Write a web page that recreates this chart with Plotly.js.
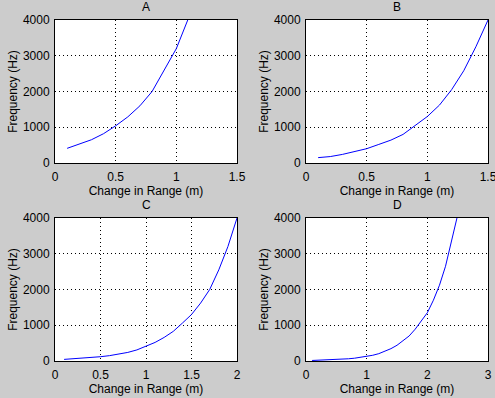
<!DOCTYPE html>
<html>
<head>
<meta charset="utf-8">
<script src="https://cdn.plot.ly/plotly-3.0.1.min.js"></script>
<style>
html,body{margin:0;padding:0;background:#cccccc;}
#chart{width:495px;height:398px;}
</style>
</head>
<body>
<div id="chart"></div>
<script>
// Panel A
const xA = [0.1, 0.2, 0.3, 0.4, 0.5, 0.6, 0.7, 0.8, 0.9, 1.0, 1.1];
const yA = [410, 530, 650, 820, 1040, 1290, 1600, 2000, 2600, 3200, 4050];
// Panel B
const xB = [0.1, 0.2, 0.3, 0.4, 0.5, 0.6, 0.7, 0.8, 0.9, 1.0, 1.1, 1.2, 1.3, 1.4, 1.5];
const yB = [150, 180, 240, 320, 400, 520, 640, 800, 1050, 1300, 1620, 2050, 2580, 3250, 4000];
// Panel C
const xC = [0.1, 0.2, 0.3, 0.4, 0.5, 0.6, 0.7, 0.8, 0.9, 1.0, 1.1, 1.2, 1.3, 1.4, 1.5, 1.6, 1.7, 1.8, 1.9, 2.0];
const yC = [45, 60, 80, 95, 120, 150, 190, 240, 310, 410, 520, 660, 830, 1060, 1300, 1620, 2000, 2550, 3200, 4000];
// Panel D
const xD = [0.1, 0.2, 0.3, 0.4, 0.5, 0.6, 0.7, 0.8, 0.9, 1.0, 1.1, 1.2, 1.3, 1.4, 1.5, 1.6, 1.7, 1.8, 1.9, 2.0, 2.1, 2.2, 2.3, 2.4, 2.5, 2.6];
const yD = [15, 20, 25, 32, 40, 50, 62, 78, 100, 128, 160, 205, 270, 345, 440, 560, 700, 890, 1110, 1350, 1700, 2120, 2650, 3330, 3950, 4800];

const titles = ['A', 'B', 'C', 'D'];
const xRanges = [[0, 1.5], [0, 1.5], [0, 2], [0, 3]];
const xTicks = [[0, 0.5, 1, 1.5], [0, 0.5, 1, 1.5], [0, 0.5, 1, 1.5, 2], [0, 1, 2, 3]];
const yTicks = [0, 1000, 2000, 3000, 4000];
const xLabel = 'Change in Range (m)';
const yLabel = 'Frequency (Hz)';

const W = 495, H = 398;
const xDom = [[55 / W, 237 / W], [306 / W, 488 / W], [55 / W, 237 / W], [306 / W, 488 / W]];
const yDom = [[1 - 163 / H, 1 - 20 / H], [1 - 163 / H, 1 - 20 / H], [1 - 361 / H, 1 - 218 / H], [1 - 361 / H, 1 - 218 / H]];

const xs = [xA, xB, xC, xD];
const ys = [yA, yB, yC, yD];

const font = {family: 'Liberation Sans, Arial, Helvetica, sans-serif', size: 12, color: '#000000'};

const data = [];
const layout = {
  width: W, height: H,
  margin: {l: 0, r: 0, t: 0, b: 0},
  paper_bgcolor: '#cccccc',
  plot_bgcolor: '#ffffff',
  showlegend: false,
  font: font,
  annotations: []
};

for (let i = 0; i < 4; i++) {
  const sfx = i === 0 ? '' : String(i + 1);
  data.push({
    x: xs[i], y: ys[i], type: 'scatter', mode: 'lines',
    line: {color: '#0000ff', width: 1},
    xaxis: 'x' + sfx, yaxis: 'y' + sfx, hoverinfo: 'skip'
  });
  const common = {
    showline: true, linecolor: '#000000', linewidth: 1, mirror: true,
    showgrid: true, gridcolor: '#000000', gridwidth: 1, griddash: '1px,3px',
    zeroline: false, ticks: 'outside', tickcolor: 'rgba(0,0,0,0)',
    tickfont: font, fixedrange: true, ticklabeloverflow: 'allow'
  };
  layout['xaxis' + sfx] = Object.assign({}, common, {
    domain: xDom[i], anchor: 'y' + sfx, range: xRanges[i],
    tickmode: 'array', tickvals: xTicks[i], ticktext: xTicks[i].map(String),
    ticklen: 3, tickpad: 0,
    title: {text: xLabel, font: font, standoff: 2}
  });
  layout['yaxis' + sfx] = Object.assign({}, common, {
    domain: yDom[i], anchor: 'x' + sfx, range: [0, 4000],
    tickmode: 'array', tickvals: yTicks, ticktext: yTicks.map(String),
    ticklen: 2, tickpad: 1,
    title: {text: yLabel, font: font, standoff: 2}
  });
  layout.annotations.push({
    text: titles[i], showarrow: false, font: font,
    xref: 'paper', yref: 'paper',
    x: (xDom[i][0] + xDom[i][1]) / 2, y: yDom[i][1] + 13 / H,
    xanchor: 'center', yanchor: 'middle'
  });
}

Plotly.newPlot('chart', data, layout, {displayModeBar: false, staticPlot: true});
</script>
</body>
</html>
